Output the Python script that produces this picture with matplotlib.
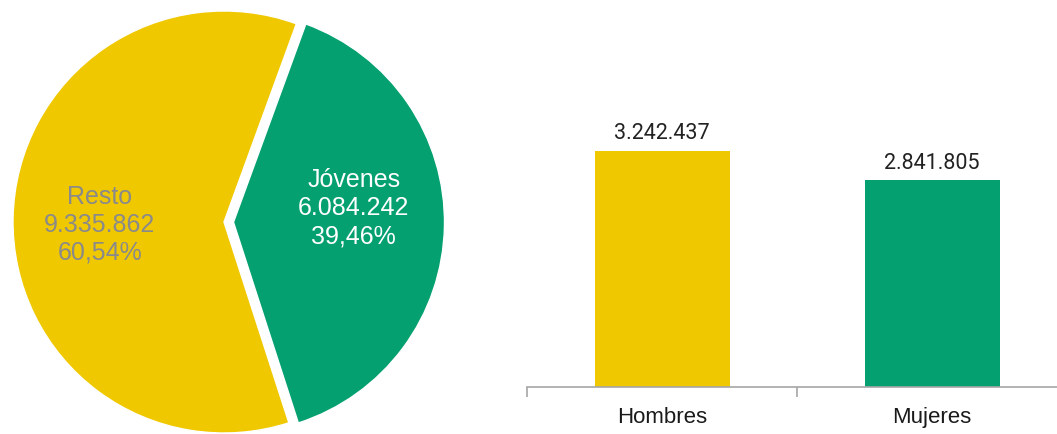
import matplotlib
matplotlib.use("Agg")
import matplotlib.pyplot as plt

plt.rcParams["font.family"] = ["Liberation Sans", "DejaVu Sans"]

# data
pie_labels = ["Jóvenes", "Resto"]
pie_values = [6084242, 9335862]
pie_pcts = ["39,46%", "60,54%"]
sex_labels = ["Hombres", "Mujeres"]
sex_values = [3242437, 2841805]

YEL = "#F0C800"
GRN = "#05A070"

def fmt(v):
    return f"{v:,}".replace(",", ".")

W, H = 1057, 435
fig = plt.figure(figsize=(W / 100, H / 100), dpi=100)

# ---- pie (left) ----
r_px, cx, cy = 211, 224, 223          # radius and centre in pixels (y from top)
half = 1.1
side = 2 * half * r_px
ax1 = fig.add_axes([(cx - side / 2) / W, (H - cy - side / 2) / H, side / W, side / H])
ax1.pie(pie_values, colors=[GRN, YEL], startangle=-72.1, counterclock=True,
        explode=[0.045, 0], radius=1, wedgeprops=dict(edgecolor="white", linewidth=1))
ax1.set_xlim(-half, half); ax1.set_ylim(-half, half); ax1.set_aspect("equal")
ax1.axis("off")
ax1.text(0.615, 0.07, f"{pie_labels[0]}\n{fmt(pie_values[0])}\n{pie_pcts[0]}",
         ha="center", va="center", fontsize=18, color="white", linespacing=1.2)
ax1.text(-0.588, -0.01, f"{pie_labels[1]}\n{fmt(pie_values[1])}\n{pie_pcts[1]}",
         ha="center", va="center", fontsize=18, color="#8a8a8a", linespacing=1.2)

# ---- bars (right) ----
x0, x1, base, top = 527, 1067, 388, 97
ax2 = fig.add_axes([x0 / W, (H - base) / H, (x1 - x0) / W, (base - top) / H])
xs = range(len(sex_labels))
bars = ax2.bar(xs, sex_values, width=0.5, color=[YEL, GRN])
for b, v in zip(bars, sex_values):
    ax2.annotate(fmt(v), (b.get_x() + b.get_width() / 2, v), xytext=(0, 5.5),
                 textcoords="offset points", ha="center", va="bottom",
                 fontsize=15.5, color="#222222", family=["Roboto", "DejaVu Sans"])
ax2.set_xlim(-0.5, 1.5)
ax2.set_ylim(0, 4e6)
for sp in ["top", "right", "left"]:
    ax2.spines[sp].set_visible(False)
ax2.spines["bottom"].set_color("#a6a6a6")
ax2.spines["bottom"].set_linewidth(1.2)
ax2.set_yticks([])
ax2.set_xticks([-0.5, 0.5, 1.5])
ax2.set_xticklabels([])
ax2.set_xticks(list(xs), minor=True)
ax2.set_xticklabels(sex_labels, minor=True, fontsize=16, color="#1a1a1a")
ax2.tick_params(axis="x", which="major", length=7, color="#a6a6a6", width=1.2, direction="out")
ax2.tick_params(axis="x", which="minor", length=0, pad=14)

fig.savefig("out.png", dpi=100)
